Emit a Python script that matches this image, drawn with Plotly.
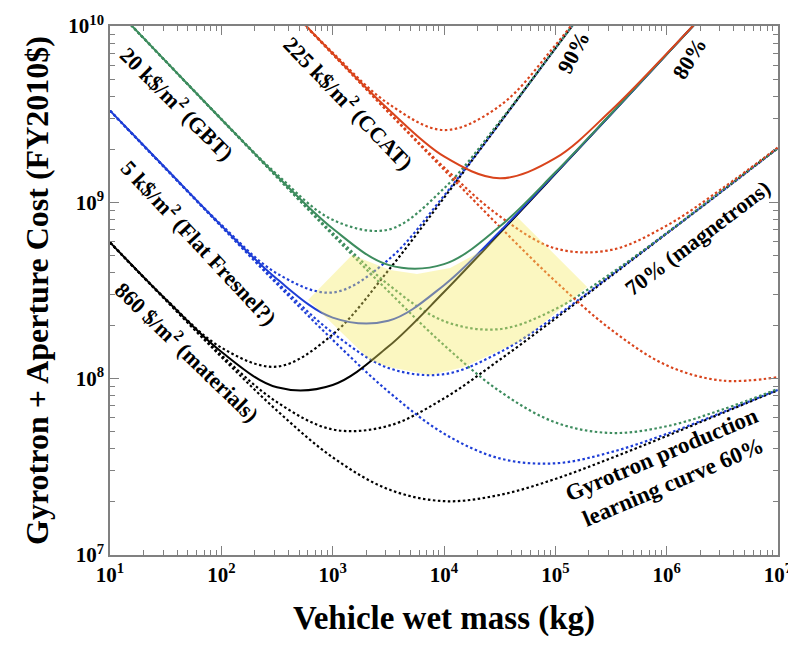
import plotly.graph_objects as go

# ---- data (vehicle wet mass, kg) ----
mass = [10, 31.62, 100, 316.2, 1000, 3162, 1e4, 31623, 1e5, 316228, 1e6, 3162278, 1e7]

# total cost (FY2010 $) for each aperture cost / learning curve
black_90 = [5.92e8, 2.83e8, 1.50e8, 1.17e8, 1.78e8, 4.11e8, 1.06e9, 2.81e9, 7.45e9, 1.98e10, 5.25e10, 1.39e11, 3.70e11]
black_80 = [5.93e8, 2.82e8, 1.42e8, 8.93e7, 9.21e7, 1.52e8, 3.10e8, 6.67e8, 1.45e9, 3.16e9, 6.90e9, 1.51e10, 3.29e10]
black_70 = [5.92e8, 2.80e8, 1.36e8, 7.36e7, 5.15e7, 5.40e7, 7.73e7, 1.28e8, 2.19e8, 3.82e8, 6.65e8, 1.16e9, 2.03e9]
black_60 = [5.92e8, 2.79e8, 1.33e8, 6.59e7, 3.58e7, 2.36e7, 2.02e7, 2.19e7, 2.70e7, 3.54e7, 4.73e7, 6.38e7, 8.61e7]

blue_90 = [3.31e9, 1.56e9, 7.46e8, 3.95e8, 3.08e8, 4.72e8, 1.09e9, 2.82e9, 7.46e9, 1.98e10, 5.25e10, 1.39e11, 3.70e11]
blue_80 = [3.31e9, 1.56e9, 7.38e8, 3.67e8, 2.22e8, 2.13e8, 3.39e8, 6.81e8, 1.46e9, 3.16e9, 6.90e9, 1.51e10, 3.29e10]
blue_70 = [3.31e9, 1.55e9, 7.33e8, 3.52e8, 1.82e8, 1.15e8, 1.06e8, 1.41e8, 2.25e8, 3.85e8, 6.67e8, 1.16e9, 2.03e9]
blue_60 = [3.31e9, 1.55e9, 7.29e8, 3.44e8, 1.66e8, 8.45e7, 4.88e7, 3.53e7, 3.31e7, 3.83e7, 4.86e7, 6.44e7, 8.65e7]

green_90 = [1.35e10, 6.32e9, 2.97e9, 1.44e9, 7.96e8, 7.00e8, 1.20e9, 2.87e9, 7.48e9, 1.98e10, 5.25e10, 1.39e11, 3.70e11]
green_80 = [1.35e10, 6.32e9, 2.96e9, 1.41e9, 7.10e8, 4.42e8, 4.46e8, 7.29e8, 1.48e9, 3.18e9, 6.90e9, 1.51e10, 3.29e10]
green_70 = [1.35e10, 6.31e9, 2.96e9, 1.39e9, 6.70e8, 3.42e8, 2.12e8, 1.91e8, 2.48e8, 3.95e8, 6.71e8, 1.17e9, 2.03e9]
green_60 = [1.35e10, 6.31e9, 2.95e9, 1.39e9, 6.53e8, 3.13e8, 1.55e8, 8.49e7, 5.65e7, 4.92e7, 5.37e7, 6.68e7, 8.75e7]

red_90 = [1.45e11, 6.76e10, 3.16e10, 1.48e10, 7.06e9, 3.63e9, 2.57e9, 3.52e9, 7.78e9, 2.00e10, 5.25e10, 1.39e11, 3.70e11]
red_80 = [1.45e11, 6.76e10, 3.16e10, 1.49e10, 6.98e9, 3.37e9, 1.82e9, 1.37e9, 1.78e9, 3.32e9, 6.97e9, 1.51e10, 3.29e10]
red_70 = [1.45e11, 6.76e10, 3.16e10, 1.48e10, 6.93e9, 3.27e9, 1.58e9, 8.34e8, 5.48e8, 5.37e8, 7.38e8, 1.20e9, 2.05e9]
red_60 = [1.45e11, 6.76e10, 3.16e10, 1.48e10, 6.92e9, 3.24e9, 1.53e9, 7.28e8, 3.57e8, 1.90e8, 1.19e8, 9.75e7, 1.02e8]

# shaded (yellow) region outline
region_mass = [601, 1493, 3281, 5728, 11350, 22440, 45400, 193200, 51400, 14860, 7500, 3281, 2168, 601]
region_cost = [2.79e8, 5.02e8, 4.13e8, 3.92e8, 4.24e8, 5.36e8, 8.26e8, 3.31e8, 1.66e8, 1.16e8, 1.05e8, 1.16e8, 1.27e8, 2.79e8]

# axis ticks
x_tickvals = [1e1, 1e2, 1e3, 1e4, 1e5, 1e6, 1e7]
x_ticktext = ["10<sup>1</sup>", "10<sup>2</sup>", "10<sup>3</sup>", "10<sup>4</sup>",
              "10<sup>5</sup>", "10<sup>6</sup>", "10<sup>7</sup>"]
y_tickvals = [1e7, 1e8, 1e9, 1e10]
y_ticktext = ["10<sup>7</sup>", "10<sup>8</sup>", "10<sup>9</sup>", "10<sup>10</sup>"]

colors = {"black": "#000000", "blue": "#1e3ed6", "green": "#3d8c5e", "red": "#d9441c"}
series = [
    ("black", black_90, "dot"), ("black", black_70, "dot"), ("black", black_60, "dot"),
    ("blue", blue_90, "dot"), ("blue", blue_70, "dot"), ("blue", blue_60, "dot"),
    ("green", green_90, "dot"), ("green", green_70, "dot"), ("green", green_60, "dot"),
    ("red", red_90, "dot"), ("red", red_70, "dot"), ("red", red_60, "dot"),
    ("black", black_80, "solid"), ("blue", blue_80, "solid"),
    ("green", green_80, "solid"), ("red", red_80, "solid"),
]

fig = go.Figure()
for cname, ys, dash in series:
    fig.add_trace(go.Scatter(
        x=mass, y=ys, mode="lines",
        line=dict(color=colors[cname], width=2 if dash == "solid" else 2.2,
                  dash="solid" if dash == "solid" else "2.5px,2.5px",
                  shape="spline", smoothing=1.0),
        showlegend=False, hoverinfo="skip"))

fig.add_trace(go.Scatter(
    x=region_mass, y=region_cost, mode="lines", fill="toself",
    fillcolor="rgba(245,235,100,0.40)", line=dict(width=0),
    showlegend=False, hoverinfo="skip"))

serif = "Liberation Serif, Times New Roman, serif"
axis_common = dict(
    type="log", showgrid=False, zeroline=False, automargin=False,
    showline=True, linecolor="#808080", linewidth=1.5, mirror="ticks",
    ticks="inside", ticklen=9, tickwidth=1.2, tickcolor="#808080",
    ticklabeloverflow="allow",
    minor=dict(ticks="inside", ticklen=5, tickwidth=1, tickcolor="#808080", dtick="D1", showgrid=False),
    tickfont=dict(family=serif, size=21, color="black", weight="bold"),
)

fig.update_xaxes(range=[1, 7], tickvals=x_tickvals, ticktext=x_ticktext, **axis_common,
                 title=dict(text="Vehicle wet mass (kg)", standoff=20,
                            font=dict(family=serif, size=33, color="black", weight="bold")))
fig.update_yaxes(range=[7, 10], tickvals=y_tickvals, ticktext=y_ticktext, **axis_common,
                 title=dict(text="Gyrotron + Aperture Cost (FY2010$)", standoff=10,
                            font=dict(family=serif, size=32, color="black", weight="bold")))

labels = [
    ("20 k$/m<sup>2</sup> (GBT)", 178, 103, 45, 22),
    ("225 k$/m<sup>2</sup> (CCAT)", 349, 102, 46, 22),
    ("5 k$/m<sup>2</sup> (Flat Fresnel?)", 200, 242, 47, 22),
    ("860 $/m<sup>2</sup> (materials)", 188, 351, 44, 22),
    ("90%", 573, 52, -62, 22),
    ("80%", 689, 58, -58, 22),
    ("70% (magnetrons)", 697, 238, -37, 22),
    ("Gyrotron production<br>learning curve 60%", 667, 468, -23, 23),
]
L, R, T, B = 110, 10, 26, 93
W, H = 788, 648
pw, ph = W - L - R, H - T - B
for text, px, py, ang, size in labels:
    fig.add_annotation(
        text=text, xref="paper", yref="paper",
        x=(px - L) / pw, y=(H - B - py) / ph,
        showarrow=False, textangle=ang, xanchor="center", yanchor="middle",
        font=dict(family=serif, size=size, color="black", weight="bold"))

fig.update_layout(
    width=W, height=H, margin=dict(l=L, r=R, t=T, b=B),
    plot_bgcolor="white", paper_bgcolor="white",
)
fig.write_html("out.html")
